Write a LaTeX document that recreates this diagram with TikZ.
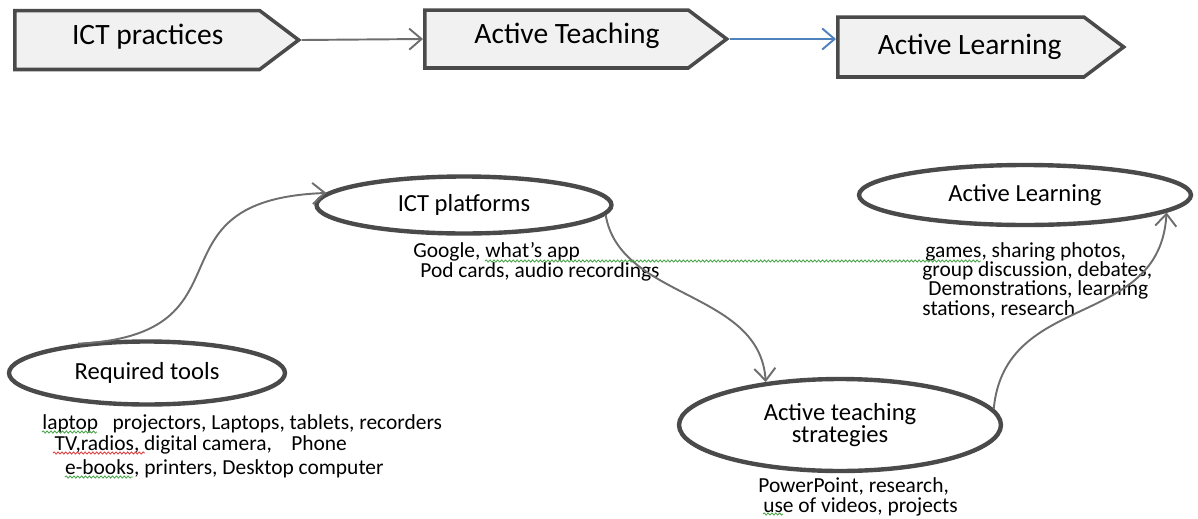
\documentclass[tikz,border=0pt]{standalone}
\usepackage{fontspec}
\setmainfont{Carlito}
\usetikzlibrary{shapes.symbols,shapes.geometric,arrows.meta,decorations.pathmorphing}
\definecolor{rim}{HTML}{4A4A4A}
\definecolor{boxfill}{HTML}{F1F1F1}
\definecolor{linkgray}{HTML}{6E6E6E}
\definecolor{officeblue}{HTML}{4F81BD}
\definecolor{spellgreen}{HTML}{4CA64C}
\definecolor{spellred}{HTML}{E04040}

\begin{document}
\begin{tikzpicture}[x=0.02cm,y=-0.02cm,>={Straight Barb[length=7pt,width=12pt]},
    stage/.style={signal,signal to=east,signal pointer angle=74,draw=rim,line width=2pt,fill=boxfill,anchor=west,inner sep=0pt,font=\fontsize{16.8}{19}\selectfont},
    idea/.style={ellipse,draw=rim,line width=2.5pt,inner sep=0pt,font=\fontsize{14}{15}\selectfont},
    note/.style={anchor=base west,inner sep=0pt,align=left,font=\fontsize{12.2}{11}\selectfont},
    flowline/.style={->,draw=linkgray,line width=1.1pt},
    spell/.style={line width=0.5pt,decorate,decoration={snake,amplitude=0.6pt,segment length=2.2pt}}]
	\useasboundingbox (0,0) rectangle (1198,518);

	\node[stage,minimum width=5.68cm,minimum height=1.18cm] (practices) at (13,40) {\hspace*{12pt}ICT practices\raisebox{0pt}[0pt][7pt]{}};
	\node[stage,minimum width=6.04cm,minimum height=1.16cm] (teaching) at (423,39) {\hspace*{12pt}Active Teaching\raisebox{0pt}[0pt][7pt]{}};
	\node[stage,minimum width=5.72cm,minimum height=1.2cm] (learning) at (836,47) {\hspace*{10pt}Active Learning};

	\draw[flowline] (practices.east) -- (teaching.west);
	\draw[flowline,draw=officeblue] (teaching.east) -- (teaching.east -| learning.west);

	\node[idea,minimum width=5.9cm,minimum height=1.14cm] (platforms) at (464,205) {ICT platforms};
	\node[idea,minimum width=6.64cm,minimum height=1.2cm] (outcome) at (1025,195) {Active Learning};
	\node[idea,minimum width=5.52cm,minimum height=1.26cm] (tools) at (147,373) {Required tools};
	\node[idea,minimum width=6.44cm,minimum height=1.84cm,align=center,font=\fontsize{14}{13}\selectfont] (strategies) at (840,425) {Active teaching\\strategies};

	\node[note,font=\fontsize{12.2}{12.4}\selectfont] (toolsnote) at (42,474) {laptop~~~projectors, Laptops, tablets, recorders\\
		\hspace*{7pt}TV,radios, digital camera,~~~~Phone\\[0.8pt]
		\hspace*{13pt}e-books, printers, Desktop computer};
	\node[note] (platnote) at (413,277) {Google, what’s app\\\hspace*{4pt}Pod cards, audio recordings};
	\node[note] (outnote) at (922,315) {\hspace*{1.7pt}games, sharing photos,\\group discussion, debates,\\\hspace*{3.4pt}Demonstrations, learning\\stations, research};
	\node[note] (stratnote) at (758,512) {PowerPoint, research,\\\hspace*{2.8pt}use of videos, projects};

	\draw[flowline] (tools.157) .. controls (260,335) and (140,200) .. (platforms.175);
	\draw[flowline] (platforms.-4) .. controls (620,300) and (760,290) .. (strategies.150);
	\draw[flowline] (strategies.6) .. controls (1005,290) and (1160,330) .. (outcome.-7);

	\draw[spell,spellgreen] (42,432) -- (97,432);
	\draw[spell,spellred] (53,453) -- (145,453);
	\draw[spell,spellgreen] (65,477) -- (133,477);
	\draw[spell,spellgreen] (485,261) -- (981,261);
	\draw[spell,spellgreen] (763,514) -- (783,514);
\end{tikzpicture}
\end{document}
